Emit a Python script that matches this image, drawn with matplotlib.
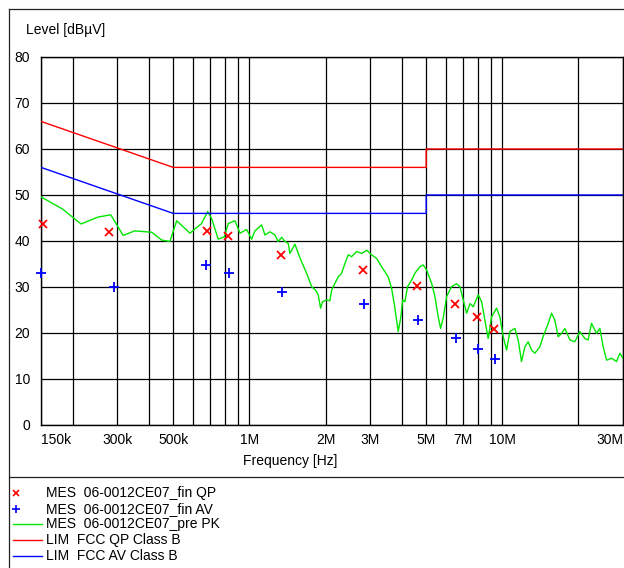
import matplotlib
matplotlib.use("Agg")
import matplotlib.pyplot as plt
from matplotlib.lines import Line2D

plt.rcParams['font.family'] = ['Liberation Sans', 'DejaVu Sans']

# ---------------------------------------------------------------- data (MHz, dBuV)
qp_freq = [0.153, 0.279, 0.681, 0.825, 1.333, 2.82, 4.58, 6.49, 7.95, 9.26]
qp_level = [43.8, 41.9, 42.2, 41.1, 37.0, 33.7, 30.2, 26.3, 23.5, 20.8]

av_freq = [0.150, 0.291, 0.672, 0.830, 1.341, 2.84, 4.65, 6.53, 8.00, 9.35]
av_level = [33.1, 29.9, 34.8, 33.1, 29.0, 26.3, 22.8, 19.0, 16.5, 14.3]

pk_freq = [
    0.150, 0.183, 0.216, 0.252, 0.283, 0.317, 0.352, 0.411, 0.450, 0.485,
    0.516, 0.582, 0.647, 0.684, 0.709, 0.753, 0.796, 0.825, 0.877, 0.918,
    0.975, 1.021, 1.052, 1.118, 1.152, 1.206, 1.262, 1.300, 1.341, 1.382,
    1.424, 1.446, 1.514, 1.560, 1.608, 1.683, 1.762, 1.833, 1.871, 1.912,
    1.947, 2.019, 2.081, 2.114, 2.179, 2.245, 2.316, 2.386, 2.459, 2.536,
    2.654, 2.778, 2.908, 3.042, 3.184, 3.333, 3.434, 3.538, 3.650, 3.737,
    3.819, 3.876, 3.972, 4.034, 4.119, 4.222, 4.379, 4.513, 4.722, 4.866,
    5.019, 5.254, 5.415, 5.580, 5.702, 5.838, 6.022, 6.302, 6.596, 6.797,
    7.005, 7.224, 7.446, 7.672, 8.030, 8.282, 8.534, 8.792, 9.068, 9.490,
    9.780, 10.08, 10.40, 10.71, 11.21, 11.55, 11.91, 12.28, 12.65, 13.05,
    13.45, 14.07, 14.50, 15.18, 15.66, 16.13, 16.62, 17.15, 17.67, 18.50,
    19.35, 20.25, 21.20, 21.84, 22.53, 23.58, 24.30, 25.05, 25.83, 27.04,
    28.30, 29.16, 30.0,
]
pk_level = [
    49.6, 46.9, 43.7, 45.2, 45.7, 41.2, 42.2, 41.9, 40.2, 39.9,
    44.4, 41.7, 43.8, 46.4, 44.9, 40.4, 40.9, 43.8, 44.4, 41.7,
    42.5, 40.4, 42.2, 43.5, 41.3, 42.0, 41.3, 39.9, 40.8, 39.9,
    39.5, 37.3, 39.3, 37.3, 35.5, 33.0, 30.1, 29.2, 28.3, 25.4,
    26.8, 27.2, 27.0, 29.3, 30.8, 32.2, 33.0, 35.1, 37.0, 36.6,
    37.7, 37.3, 38.0, 37.0, 36.2, 34.4, 33.3, 32.2, 29.7, 26.4,
    22.8, 20.3, 23.5, 27.2, 26.8, 30.1, 31.5, 33.0, 34.4, 34.8,
    33.7, 30.8, 27.9, 23.5, 21.0, 23.2, 27.9, 30.1, 30.7, 30.1,
    27.2, 24.3, 26.4, 25.7, 28.3, 26.8, 22.8, 18.8, 23.5, 25.4,
    23.5, 19.2, 16.3, 20.3, 21.0, 18.5, 13.8, 17.0, 18.1, 16.3,
    15.6, 17.0, 19.2, 22.1, 24.3, 22.8, 19.2, 19.9, 21.0, 18.5,
    18.1, 20.3, 18.8, 18.5, 22.1, 19.9, 21.0, 17.0, 14.1, 14.5,
    13.8, 15.6, 14.5,
]

lim_freq = [0.15, 0.5, 5.0, 5.0, 30.0]
lim_qp = [66, 56, 56, 60, 60]
lim_av = [56, 46, 46, 50, 50]

grid_freq = [0.15, 0.2, 0.3, 0.4, 0.5, 0.6, 0.7, 0.8, 0.9,
             1, 2, 3, 4, 5, 6, 7, 8, 9, 10, 20, 30]
tick_text = {0.15: "150k", 0.3: "300k", 0.5: "500k", 1: "1M", 2: "2M",
             3: "3M", 5: "5M", 7: "7M", 10: "10M", 30: "30M"}
y_ticks = [0, 10, 20, 30, 40, 50, 60, 70, 80]

legend_entries = [
    ("x", "MES  06-0012CE07_fin QP"),
    ("+", "MES  06-0012CE07_fin AV"),
    ("pk", "MES  06-0012CE07_pre PK"),
    ("qp", "LIM  FCC QP Class B"),
    ("av", "LIM  FCC AV Class B"),
]

RED = "#ff0000"
BLUE = "#0000ff"
GREEN = "#00e600"

# ---------------------------------------------------------------- figure
W, H = 624, 568
fig = plt.figure(figsize=(W / 100, H / 100), dpi=100)
fig.patch.set_facecolor("white")


def fx(x):
    return x / W


def fy(y):
    return 1 - y / H


ax = fig.add_axes([fx(41), fy(425), (623 - 41) / W, (425 - 57) / H])
ax.set_xscale("log")
ax.set_xlim(0.15, 30)
ax.set_ylim(0, 80)

ax.set_xticks(grid_freq)
ax.set_xticklabels([tick_text.get(f, "") for f in grid_freq])
ax.xaxis.set_minor_locator(matplotlib.ticker.NullLocator())
ax.set_yticks(y_ticks)
ax.set_yticklabels([str(v) for v in y_ticks])
ax.tick_params(axis="both", length=0, labelsize=10, colors="black")
ax.tick_params(axis="x", pad=6)
ax.tick_params(axis="y", pad=8)
labels = ax.get_xticklabels()
labels[0].set_horizontalalignment("left")
labels[-1].set_horizontalalignment("right")

ax.grid(True, color="black", lw=0.9)
ax.set_axisbelow(True)
for s in ax.spines.values():
    s.set_color("black")
    s.set_linewidth(1.0)

ax.plot(pk_freq, pk_level, color=GREEN, lw=1.0, zorder=3)
ax.plot(lim_freq, lim_qp, color=RED, lw=1.0, zorder=4)
ax.plot(lim_freq, lim_av, color=BLUE, lw=1.0, zorder=4)
ax.plot(qp_freq, qp_level, ls="none", marker="x", color=RED,
        ms=6, mew=1.3, zorder=5, clip_on=False)
ax.plot(av_freq, av_level, ls="none", marker="+", color=BLUE,
        ms=7, mew=1.3, zorder=5, clip_on=False)

fig.text(fx(26), fy(30), "Level [dBµV]", fontsize=10, va="center", ha="left")
fig.text(fx(290), fy(461), "Frequency [Hz]", fontsize=10, va="center", ha="center")

# outer frame and legend separator
frame_kw = dict(color="#222222", lw=0.9, transform=fig.transFigure)
fig.add_artist(Line2D([fx(9), fx(9)], [fy(9), fy(568)], **frame_kw))
fig.add_artist(Line2D([fx(9), fx(624)], [fy(9), fy(9)], **frame_kw))
fig.add_artist(Line2D([fx(9), fx(624)], [fy(477), fy(477)], **frame_kw))

# legend
for i, (kind, text) in enumerate(legend_entries):
    y = 493 + i * 15.7
    if kind == "x":
        fig.add_artist(Line2D([fx(16)], [fy(y)], ls="none", marker="x", color=RED,
                              ms=5, mew=1.2, transform=fig.transFigure))
    elif kind == "+":
        fig.add_artist(Line2D([fx(16)], [fy(y)], ls="none", marker="+", color=BLUE,
                              ms=6, mew=1.2, transform=fig.transFigure))
    else:
        c = {"pk": GREEN, "qp": RED, "av": BLUE}[kind]
        fig.add_artist(Line2D([fx(13), fx(42)], [fy(y), fy(y)], color=c, lw=1.0,
                              transform=fig.transFigure))
    fig.text(fx(46), fy(y), text, fontsize=10, va="center", ha="left")

fig.savefig("out.png", dpi=100)
